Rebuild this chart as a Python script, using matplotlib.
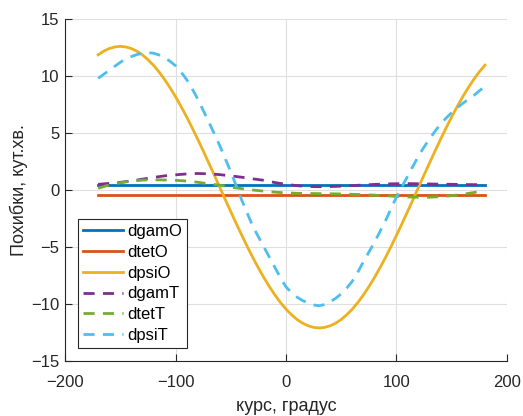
import matplotlib
matplotlib.use("Agg")
import matplotlib.pyplot as plt

# курс, градус
kurs = list(range(-170, 181, 10))
kurs5 = list(range(-170, 181, 5))

dgamO = [0.45] * len(kurs)
dtetO = [-0.42] * len(kurs)

# dpsiO read every 5 degrees
dpsiO = [11.86, 12.18, 12.41, 12.55, 12.60, 12.55, 12.41, 12.18, 11.86, 11.44,
         10.95, 10.37, 9.71, 8.98, 8.19, 7.33, 6.43, 5.47, 4.47, 3.45,
         2.39, 1.33, 0.25, -0.83, -1.89, -2.95, -3.97, -4.97, -5.93, -6.83,
         -7.69, -8.48, -9.21, -9.87, -10.45, -10.94, -11.36, -11.68, -11.91, -12.05,
         -12.10, -12.05, -11.91, -11.68, -11.36, -10.94, -10.45, -9.87, -9.21, -8.48,
         -7.69, -6.83, -5.93, -4.97, -3.97, -2.95, -1.89, -0.83, 0.25, 1.33,
         2.39, 3.45, 4.47, 5.47, 6.43, 7.33, 8.19, 8.98, 9.71, 10.37,
         10.95]

dgamT = [0.5, 0.58, 0.67, 0.8, 0.95, 1.1, 1.24, 1.33, 1.41, 1.45,
         1.42, 1.35, 1.24, 1.12, 0.98, 0.85, 0.65, 0.5, 0.38, 0.31,
         0.29, 0.3, 0.34, 0.39, 0.44, 0.49, 0.53, 0.55, 0.56, 0.55,
         0.53, 0.51, 0.5, 0.48, 0.47, 0.47]

dtetT = [0.15, 0.45, 0.64, 0.78, 0.87, 0.9, 0.88, 0.85, 0.79, 0.68,
         0.55, 0.42, 0.26, 0.12, 0.0, -0.1, -0.19, -0.25, -0.29, -0.31,
         -0.32, -0.33, -0.35, -0.38, -0.41, -0.45, -0.5, -0.56, -0.61, -0.63,
         -0.63, -0.58, -0.5, -0.38, -0.22, -0.05]

# dpsiT read every 5 degrees
dpsiT = [9.8, 10.15, 10.5, 10.85, 11.2, 11.5, 11.7, 11.88, 12.0, 12.05,
         12.0, 11.85, 11.6, 11.3, 10.9, 10.35, 9.7, 8.9, 8.0, 7.0,
         6.0, 4.95, 3.9, 2.75, 1.6, 0.35, -0.9, -2.05, -3.2, -4.1,
         -5.0, -5.9, -6.8, -7.7, -8.5, -9.0, -9.4, -9.7, -9.9, -10.08,
         -10.15, -10.05, -9.8, -9.5, -9.1, -8.6, -8.0, -7.2, -6.3, -5.45,
         -4.6, -3.65, -2.7, -1.65, -0.6, 0.3, 1.2, 2.1, 3.0, 3.78,
         4.5, 5.17, 5.8, 6.32, 6.8, 7.22, 7.6, 7.96, 8.3, 8.7,
         9.1]

plt.rcParams['font.family'] = ['Liberation Sans', 'DejaVu Sans']
axc = '#262626'

fig = plt.figure(figsize=(5.23, 4.16), dpi=100)
ax = fig.add_axes([0.1243, 0.1322, 0.8451, 0.8221])

lw = 2.0
dash = (0, (4, 3))
ax.plot(kurs, dgamO, color='#0072BD', lw=lw, label='dgamO')
ax.plot(kurs, dtetO, color='#D95319', lw=lw, label='dtetO')
ax.plot(kurs5, dpsiO, color='#EDB120', lw=lw, label='dpsiO')
ax.plot(kurs, dgamT, color='#7E2F8E', lw=lw, ls=dash, label='dgamT')
ax.plot(kurs, dtetT, color='#77AC30', lw=lw, ls=dash, label='dtetT')
ax.plot(kurs5, dpsiT, color='#4DBEEE', lw=lw, ls=dash, label='dpsiT')

ax.set_xlim(-200, 200)
ax.set_ylim(-15, 15)
ax.set_xticks([-200, -100, 0, 100, 200])
ax.set_yticks([-15, -10, -5, 0, 5, 10, 15])
ax.grid(True, color='#dfdfdf', lw=0.8)
ax.set_axisbelow(True)

for s in ['top', 'right']:
    ax.spines[s].set_visible(False)
for s in ['left', 'bottom']:
    ax.spines[s].set_color(axc)
    ax.spines[s].set_linewidth(0.8)
ax.tick_params(direction='in', length=5, width=0.8, colors=axc, labelsize=12)
ax.tick_params(axis='x', pad=10)
ax.tick_params(axis='y', pad=4)

ax.set_xlabel('курс, градус', fontsize=13, color=axc, labelpad=6)
ax.set_ylabel('Похибки, кут.хв.', fontsize=13, color=axc, labelpad=2)

leg = ax.legend(loc='lower left', bbox_to_anchor=(0.029, 0.038), borderaxespad=0,
                fontsize=12, handlelength=2.4, handletextpad=0.25, labelspacing=0.35,
                borderpad=0.3, fancybox=False, framealpha=1, edgecolor=axc)
leg.get_frame().set_linewidth(0.8)

fig.savefig('out.png', dpi=100)
